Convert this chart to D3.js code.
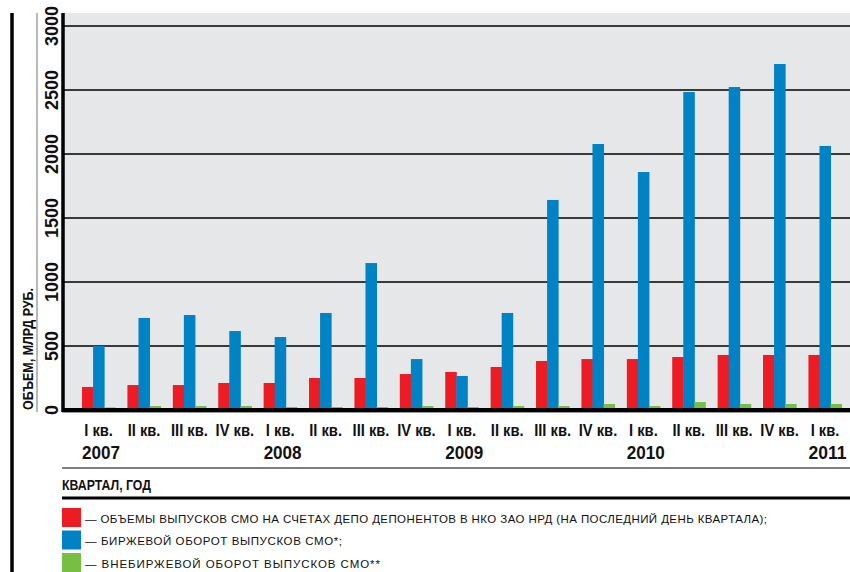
<!DOCTYPE html>
<html>
<head>
<meta charset="utf-8">
<script src="https://cdn.jsdelivr.net/npm/d3@7"></script>
<style>
  html, body { margin: 0; padding: 0; background: #fff; }
  svg { display: block; }
  text { font-family: "Liberation Sans", Arial, sans-serif; fill: #111; }
</style>
</head>
<body>
<svg id="chart" width="850" height="572"></svg>
<script>
// Quarters and years
const quarters = ["I кв.", "II кв.", "III кв.", "IV кв.",
                  "I кв.", "II кв.", "III кв.", "IV кв.",
                  "I кв.", "II кв.", "III кв.", "IV кв.",
                  "I кв.", "II кв.", "III кв.", "IV кв.",
                  "I кв."];
const yearLabels = [["2007", 0], ["2008", 4], ["2009", 8], ["2010", 12], ["2011", 16]];

// Series values, bn RUB
const depoVolume = [180, 195, 195, 211, 211, 250, 250, 281, 297, 336, 383, 398, 398, 414, 430, 430, 430];
const exchangeTurnover = [500, 719, 742, 617, 570, 758, 1148, 398, 266, 758, 1641, 2078, 1859, 2484, 2523, 2703, 2063];
const otcTurnover = [20, 31, 31, 31, 23, 23, 23, 31, 23, 31, 31, 47, 31, 62, 47, 47, 47];

const yTicks = [0, 500, 1000, 1500, 2000, 2500, 3000];

const seriesNames = ["depo", "exchange", "otc"];
const seriesColors = ["#ed1c24", "#0083c4", "#77bf43"];
const legendTexts = [
  "— ОБЪЕМЫ ВЫПУСКОВ СМО НА СЧЕТАХ ДЕПО ДЕПОНЕНТОВ В НКО ЗАО НРД (НА ПОСЛЕДНИЙ ДЕНЬ КВАРТАЛА);",
  "— БИРЖЕВОЙ ОБОРОТ ВЫПУСКОВ СМО*;",
  "— ВНЕБИРЖЕВОЙ ОБОРОТ ВЫПУСКОВ СМО**"
];
const legendWidths = [682, 257, 295];

const svg = d3.select("#chart");
const W = 850;
const plotLeft = 63, plotTop = 13, baseY = 410;

const idx = d3.range(quarters.length);
const x = d3.scaleBand().domain(idx).range([75.9, 847.7]).paddingInner(0.27).paddingOuter(0.135);
const xs = d3.scaleBand().domain(seriesNames).range([0, x.bandwidth()]);
const y = d3.scaleLinear().domain([0, 3000]).range([baseY, 26]);

// plot background
svg.append("rect").attr("x", plotLeft).attr("y", plotTop)
  .attr("width", W - plotLeft).attr("height", baseY - plotTop).attr("fill", "#e6e7e9");

// gridlines
svg.append("g").selectAll("line").data(yTicks.filter(d => d > 0)).join("line")
  .attr("x1", plotLeft).attr("x2", W)
  .attr("y1", d => y(d)).attr("y2", d => y(d))
  .attr("stroke", "#3a3a3a").attr("stroke-width", 1.8);

// bars
const rows = idx.map(i => ({ i, vals: [depoVolume[i], exchangeTurnover[i], otcTurnover[i]] }));
const groups = svg.append("g").selectAll("g").data(rows).join("g")
  .attr("transform", d => `translate(${x(d.i)},0)`);
groups.selectAll("rect").data(d => d.vals.map((v, k) => ({ k, v }))).join("rect")
  .attr("x", d => xs(seriesNames[d.k]))
  .attr("width", xs.bandwidth() + 0.5)
  .attr("y", d => y(d.v))
  .attr("height", d => baseY - y(d.v))
  .attr("fill", d => seriesColors[d.k]);

// baseline
svg.append("line").attr("x1", plotLeft - 1).attr("x2", W).attr("y1", baseY + 2.5).attr("y2", baseY + 2.5)
  .attr("stroke", "#999").attr("stroke-width", 1);
svg.append("line").attr("x1", plotLeft - 1).attr("x2", W).attr("y1", baseY).attr("y2", baseY)
  .attr("stroke", "#000").attr("stroke-width", 4);

// left axis line
svg.append("line").attr("x1", plotLeft).attr("x2", plotLeft).attr("y1", plotTop).attr("y2", baseY + 2)
  .attr("stroke", "#000").attr("stroke-width", 3.5);

// thin gray rule and outer black rule
svg.append("line").attr("x1", 37).attr("x2", 37).attr("y1", plotTop).attr("y2", 412)
  .attr("stroke", "#8a8a8a").attr("stroke-width", 1.2);
svg.append("line").attr("x1", 12).attr("x2", 12).attr("y1", plotTop).attr("y2", 572)
  .attr("stroke", "#000").attr("stroke-width", 3.5);

// y tick labels (rotated)
svg.append("g").selectAll("text").data(yTicks).join("text")
  .attr("transform", d => `translate(58,${y(d)}) rotate(-90)`)
  .attr("text-anchor", "middle")
  .attr("font-size", 18).attr("font-weight", "bold")
  .text(d => d);

// y title
svg.append("text")
  .attr("transform", `translate(33,410) rotate(-90)`)
  .attr("text-anchor", "start")
  .attr("font-size", 14).attr("font-weight", "bold")
  .attr("textLength", 122).attr("lengthAdjust", "spacingAndGlyphs")
  .text("ОБЪЕМ, МЛРД РУБ.");

// quarter labels
svg.append("g").selectAll("text").data(idx).join("text")
  .attr("transform", i => `translate(${x(i) + x.bandwidth() / 2},436) scale(0.92,1)`)
  .attr("text-anchor", "middle")
  .attr("font-size", 16).attr("font-weight", "bold")
  .text(i => quarters[i]);

// year labels
svg.append("g").selectAll("text").data(yearLabels).join("text")
  .attr("x", d => x(d[1])).attr("y", 459)
  .attr("font-size", 18).attr("font-weight", "bold")
  .attr("textLength", 38).attr("lengthAdjust", "spacingAndGlyphs")
  .text(d => d[0]);

// rules under the axis labels
svg.append("line").attr("x1", 62).attr("x2", W).attr("y1", 468).attr("y2", 468)
  .attr("stroke", "#555").attr("stroke-width", 1.5);
svg.append("text")
  .attr("x", 62).attr("y", 490)
  .attr("font-size", 14.5).attr("font-weight", "bold")
  .attr("textLength", 89).attr("lengthAdjust", "spacingAndGlyphs")
  .text("КВАРТАЛ, ГОД");
svg.append("line").attr("x1", 62).attr("x2", W).attr("y1", 498).attr("y2", 498)
  .attr("stroke", "#000").attr("stroke-width", 3);

// legend
const legend = svg.append("g").selectAll("g").data(legendTexts).join("g")
  .attr("transform", (d, i) => `translate(62,${508 + i * 22.5})`);
legend.append("rect").attr("width", 19).attr("height", 19)
  .attr("fill", (d, i) => seriesColors[i]);
legend.append("text")
  .attr("x", 23).attr("y", 14.5)
  .attr("font-size", 11.5)
  .attr("textLength", (d, i) => legendWidths[i]).attr("lengthAdjust", "spacing")
  .text(d => d);
</script>
</body>
</html>
